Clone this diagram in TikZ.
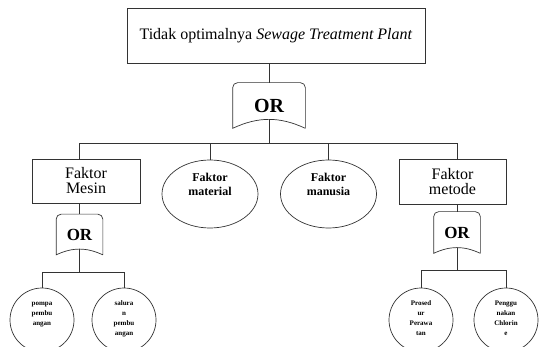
\documentclass[tikz,border=0pt]{standalone}
\usepackage{fontspec}
\setmainfont{Liberation Serif}
\usetikzlibrary{shapes.geometric}

\begin{document}
\begin{tikzpicture}[x=1pt, y=-1pt, line width=0.7pt,
    every node/.style={align=center, inner sep=0pt},
    wire/.style={draw=black!80},
    event/.style={draw=black!80, rectangle, minimum width=107pt, minimum height=44pt, font=\fontsize{16}{15}\selectfont},
    basic/.style={draw=black!80, ellipse, minimum width=96pt, minimum height=68pt, text height=10pt, text depth=6pt, font=\fontsize{12}{14}\selectfont\bfseries},
    leaf/.style={draw=black!80, circle, minimum size=64pt, text height=15pt, text depth=4pt, font=\fontsize{7}{10}\selectfont\bfseries},
    gate/.style={minimum width=46pt, minimum height=40pt, font=\fontsize{17}{17}\selectfont\bfseries}]
                \clip (0,0) rectangle (540,347);
                % top event
                \node[event, minimum width=298pt, minimum height=55pt](top) at (276,35.5){Tidak optimalnya \textit{Sewage Treatment Plant}};
                \node[gate, minimum width=72pt, minimum height=45pt, font=\fontsize{20}{20}\selectfont\bfseries](orT) at (269,105.5){OR};
                % second level
                \node[event, minimum width=108pt](mesin) at (86,181){Faktor\\Mesin};
                \node[basic](material) at (210,194){Faktor\\material};
                \node[basic](manusia) at (328.5,194){Faktor\\manusia};
                \node[event, minimum height=45pt](metode) at (452.5,181.5){Faktor\\metode};
                \node[gate](orM) at (79.5,234.5){OR};
                \node[gate, minimum height=41pt](orD) at (457,232.5){OR};
                % leaves
                \node[leaf](pompa) at (42,320){pompa\\pembu\\angan};
                \node[leaf, text height=35pt](saluran) at (124,320){salura\\n\\pembu\\angan};
                \node[leaf, text height=35pt](prosedur) at (421,320){Prosed\\ur\\Perawa\\tan};
                \node[leaf, text height=35pt](penggunaan) at (506,320){Penggu\\nakan\\Chlorin\\e};
                % gate outlines
                \foreach \g in {orT, orM, orD}
                    \draw[wire] (\g.south east) to[bend right=25] coordinate[pos=.5](\g-out) (\g.south west)
                        [rounded corners=5pt] -- (\g.north west) -- (\g.north east) -- (\g.south east);
                % connectors
                \draw[wire] (top.south -| orT) -- (orT);
                \draw[wire] (orT-out) -- ++(0,24) coordinate(jT);
                \draw[wire] (jT) -| (mesin.north -| orM);
                \draw[wire] (jT) -| (material);
                \draw[wire] (jT) -| (manusia);
                \draw[wire] (jT) -| (metode.north -| orD);
                \draw[wire] (mesin.south -| orM) -- (orM);
                \draw[wire] (metode.south -| orD) -- (orD);
                \draw[wire] (orM-out) -- ++(0,23) coordinate(jM);
                \draw[wire] (jM) -| (pompa);
                \draw[wire] (jM) -| (saluran);
                \draw[wire] (orD-out) -- ++(0,23) coordinate(jD);
                \draw[wire] (jD) -| (prosedur);
                \draw[wire] (jD) -| (penggunaan);
            \end{tikzpicture}
\end{document}
